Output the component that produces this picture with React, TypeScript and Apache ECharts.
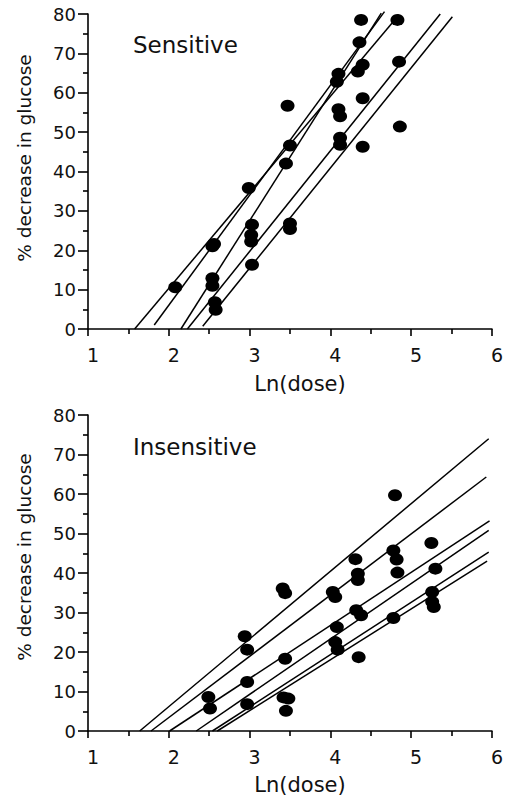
import React, { useEffect, useRef } from "react";
import * as echarts from "echarts";

const FONT = '"DejaVu Sans", sans-serif';

// Sensitive group: [Ln(dose), % decrease in glucose]
const sensitivePoints: [number, number][] = [
  [4.38, 78.5], [4.83, 78.5], [4.36, 72.8], [4.10, 64.8], [4.08, 62.8],
  [4.40, 67.1], [4.34, 65.4], [4.85, 67.9], [3.47, 56.7], [4.10, 55.8],
  [4.12, 54.0], [4.40, 58.6], [4.86, 51.4], [3.50, 46.6], [4.12, 48.6],
  [4.12, 46.8], [4.40, 46.3], [3.45, 42.0], [2.99, 35.8], [3.03, 26.5],
  [3.02, 23.9], [3.02, 22.2], [3.50, 26.8], [3.50, 25.4], [2.56, 21.6],
  [2.54, 21.0], [2.08, 10.6], [2.54, 12.9], [2.54, 11.0], [2.57, 6.8],
  [2.58, 4.9], [3.03, 16.3],
];

// Sensitive group regression lines (start, end)
const sensitiveLines: [number, number][][] = [
  [[1.577, 0], [4.85, 79.8]],
  [[1.82, 1], [4.67, 80.6]],
  [[2.15, 0], [4.63, 80.2]],
  [[2.23, 0], [5.36, 80.0]],
  [[2.42, 0.7], [5.51, 79.3]],
];

// Insensitive group
const insensitivePoints: [number, number][] = [
  [4.80, 59.7], [5.25, 47.6], [4.31, 43.5], [4.78, 45.7], [4.82, 43.4],
  [4.83, 40.1], [4.34, 39.8], [4.34, 38.2], [5.30, 41.1], [3.41, 36.1],
  [3.44, 34.9], [4.03, 35.2], [5.26, 35.2], [4.06, 33.9], [4.32, 30.6],
  [4.38, 29.3], [4.08, 26.3], [5.26, 32.7], [5.28, 31.4], [4.78, 28.6],
  [2.94, 24.0], [2.97, 20.6], [3.44, 18.3], [4.06, 22.5], [4.09, 20.6],
  [4.35, 18.7], [2.97, 12.4], [2.49, 8.6], [2.51, 5.7], [2.97, 6.8],
  [3.42, 8.5], [3.48, 8.2], [3.45, 5.1],
];

const insensitiveLines: [number, number][][] = [
  [[1.64, 0], [5.96, 74.0]],
  [[1.78, 0], [5.93, 64.3]],
  [[2.01, 0], [5.97, 53.2]],
  [[2.34, 0], [5.96, 50.8]],
  [[2.54, 0], [5.96, 45.3]],
  [[2.60, 0], [5.94, 43.0]],
];

const xTitle = "Ln(dose)";
const yTitle = "% decrease in glucose";
const panelTitles = ["Sensitive", "Insensitive"];

export default function App() {
  const ref = useRef<HTMLDivElement>(null);

  useEffect(() => {
    const chart = echarts.init(ref.current!, null, { renderer: "svg" });

    const xAxis = (gridIndex: number) => ({
      type: "value",
      gridIndex,
      min: 1,
      max: 6,
      interval: 1,
      axisLine: { show: true, onZero: false, lineStyle: { color: "#000", width: 1.6 } },
      axisTick: { show: true, length: 7, lineStyle: { color: "#000", width: 1.6 } },
      minorTick: { show: true, splitNumber: 2, length: 5, lineStyle: { color: "#000", width: 1.6 } },
      splitLine: { show: false },
      minorSplitLine: { show: false },
      axisLabel: { color: "#111", fontSize: 19, fontFamily: FONT, margin: 16, padding: [0, 0, 0, 10] },
    });

    const yAxis = (gridIndex: number) => ({
      type: "value",
      gridIndex,
      min: 0,
      max: 80,
      interval: 10,
      axisLine: { show: true, onZero: false, lineStyle: { color: "#000", width: 1.6 } },
      axisTick: { show: true, length: 10, lineStyle: { color: "#000", width: 1.6 } },
      minorTick: { show: true, splitNumber: 2, length: 5, lineStyle: { color: "#000", width: 1.6 } },
      splitLine: { show: false },
      minorSplitLine: { show: false },
      axisLabel: { color: "#111", fontSize: 18, fontFamily: FONT, margin: 12 },
    });

    const scatter = (idx: number, data: [number, number][]) => ({
      type: "scatter",
      xAxisIndex: idx,
      yAxisIndex: idx,
      data,
      symbol: "circle",
      symbolSize: [14, 12],
      itemStyle: { color: "#000", opacity: 1 },
      z: 3,
    });

    const lines = (idx: number, ls: [number, number][][]) =>
      ls.map((l) => ({
        type: "line",
        xAxisIndex: idx,
        yAxisIndex: idx,
        data: l,
        symbol: "none",
        clip: false,
        lineStyle: { color: "#000", width: 1.5 },
        z: 2,
      }));

    const text = (t: string, x: number, y: number, size: number, opts: any = {}) => ({
      type: "text",
      x,
      y,
      rotation: opts.rotation || 0,
      style: {
        text: t,
        fontSize: size,
        fontFamily: FONT,
        fill: "#111",
        align: opts.align || "center",
        verticalAlign: "middle",
      },
    });

    chart.setOption({
      animation: false,
      backgroundColor: "#fff",
      grid: [
        { left: 88, top: 14, width: 407, height: 315 },
        { left: 88, top: 415, width: 407, height: 316 },
      ],
      xAxis: [xAxis(0), xAxis(1)],
      yAxis: [yAxis(0), yAxis(1)],
      series: [
        ...lines(0, sensitiveLines),
        scatter(0, sensitivePoints),
        ...lines(1, insensitiveLines),
        scatter(1, insensitivePoints),
      ],
      graphic: [
        text(panelTitles[0], 133, 45, 23, { align: "left" }),
        text(panelTitles[1], 133, 447, 23, { align: "left" }),
        text(yTitle, 24, 158, 18.5, { rotation: Math.PI / 2 }),
        text(yTitle, 24, 557, 18.5, { rotation: Math.PI / 2 }),
        text(xTitle, 300, 384, 21),
        text(xTitle, 300, 785, 21),
      ],
    });

    return () => chart.dispose();
  }, []);

  return (
    <div
      ref={ref}
      style={{ position: "fixed", left: 0, top: 0, width: 506, height: 799 }}
    />
  );
}
